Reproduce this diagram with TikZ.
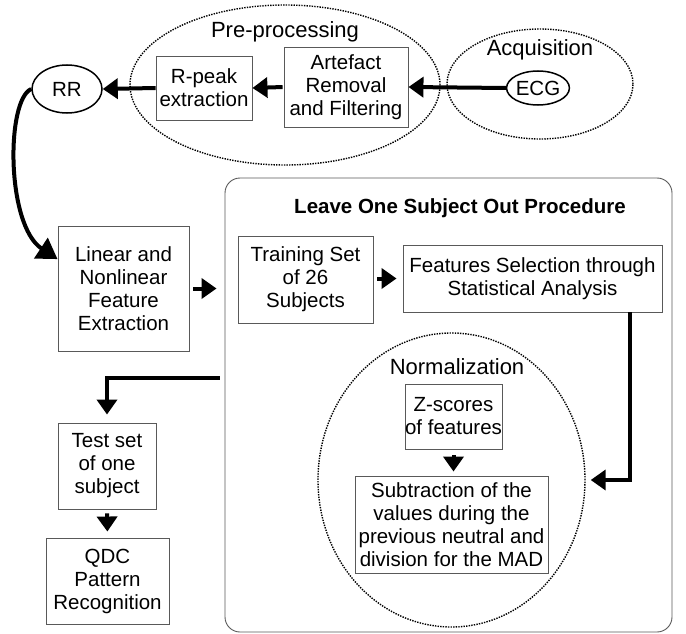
\documentclass[tikz,border=0pt]{standalone}
\usepackage{fontspec}
\setmainfont{Liberation Sans}
\usetikzlibrary{arrows.meta,shapes.geometric,calc}
\begin{document}
\begin{tikzpicture}[x=1pt,y=-1pt,
  txt/.style={font=\fontsize{20.5}{23}\selectfont, align=center},
  box/.style={txt, draw=black!65, line width=0.9pt, rectangle, inner sep=0pt},
  oval/.style={txt, draw=black, line width=1.5pt, ellipse, inner sep=0pt},
  zone/.style={draw=black, line width=1.4pt, dash pattern=on 1.4pt off 1.2pt, ellipse, inner sep=0pt},
  hdr/.style={font=\fontsize{22}{25}\selectfont, inner sep=0pt},
  arr/.style={line width=4pt, -{Triangle[length=15pt,width=20pt]}},
]
\useasboundingbox (0,0) rectangle (686,634);

% zones
\node[zone, minimum width=310pt, minimum height=160pt] (pre) at (285,85) {};
\node[zone, minimum width=186pt, minimum height=110pt] (acq) at (540,84) {};
\node[hdr] (prelab) at (285,32) {Pre-processing};
\node[hdr] (acqlab) at (540,50) {Acquisition};

% top row
\node[oval, minimum width=70pt, minimum height=48pt] (RR) at (67,89) {RR};
\node[box, minimum width=96pt, minimum height=64pt] (rpeak) at (204,88) {R-peak\\extraction};
\node[box, minimum width=124pt, minimum height=80pt] (art) at (346,87) {Artefact\\Removal\\and Filtering};
\node[oval, minimum width=60pt, minimum height=34pt] (ECG) at (538,88) {ECG};

% feature extraction
\node[box, minimum width=131pt, minimum height=125pt] (lin) at (123.5,288.5) {Linear and\\Nonlinear\\Feature\\Extraction};

% LOSO frame
\node[draw=black!65, line width=0.9pt, rounded corners=15pt, minimum width=447pt, minimum height=454pt, inner sep=0pt] (loso) at (448.5,405) {};
\node[txt, font=\fontsize{20.5}{23}\selectfont\bfseries, inner sep=0pt] (title) at (460,208) {Leave One Subject Out Procedure};
\node[box, minimum width=135pt, minimum height=87pt] (train) at (305.5,279.5) {Training Set\\of 26\\Subjects};
\node[box, minimum width=259pt, minimum height=67pt] (feat) at (532.5,278.5) {Features Selection through\\Statistical Analysis};

% normalization
\node[zone, minimum width=267pt, minimum height=294pt] (norm) at (451.5,480) {};
\node[hdr] (normlab) at (457,367) {Normalization};
\node[box, minimum width=97pt, minimum height=65pt] (zs) at (453.5,416.5) {Z-scores\\of features};
\node[box, minimum width=193pt, minimum height=97pt] (sub) at (451.5,524.5) {Subtraction of the\\values during the\\previous neutral and\\division for the MAD};

% test
\node[box, minimum width=98pt, minimum height=86pt] (test) at (107,466) {Test set\\of one\\subject};
\node[box, minimum width=123pt, minimum height=86pt] (qdc) at (107.5,581) {QDC\\Pattern\\Recognition};

% connectors
\draw[arr] (ECG.west) -- (art.east);
\draw[arr, shorten <=1pt] (art.west) -- (rpeak.east);
\draw[arr] (rpeak.west) -- (RR.east);
\draw[line width=4pt, -{Triangle[length=20pt,width=24pt]}] (RR.west) .. controls (6,100) and (6,225) .. (lin.156);
\draw[arr, shorten <=4pt, shorten >=8pt] (lin.east) -- (lin.east -| loso.west);
\draw[arr, shorten <=4pt, shorten >=6pt] (train.east |- feat.west) -- (feat.west);
\draw[arr, shorten >=5pt] ($(feat.south east)+(-32,0)$) |- (norm.east);
\draw[arr, shorten <=6pt, shorten >=4pt] (zs.south) -- (zs.south |- sub.north);
\draw[arr, shorten >=8pt] ($(loso.west)+(-5,-27)$) -| (test.north);
\draw[arr, shorten <=4pt, shorten >=6pt] (test.south) -- (qdc.north);
\end{tikzpicture}
\end{document}
